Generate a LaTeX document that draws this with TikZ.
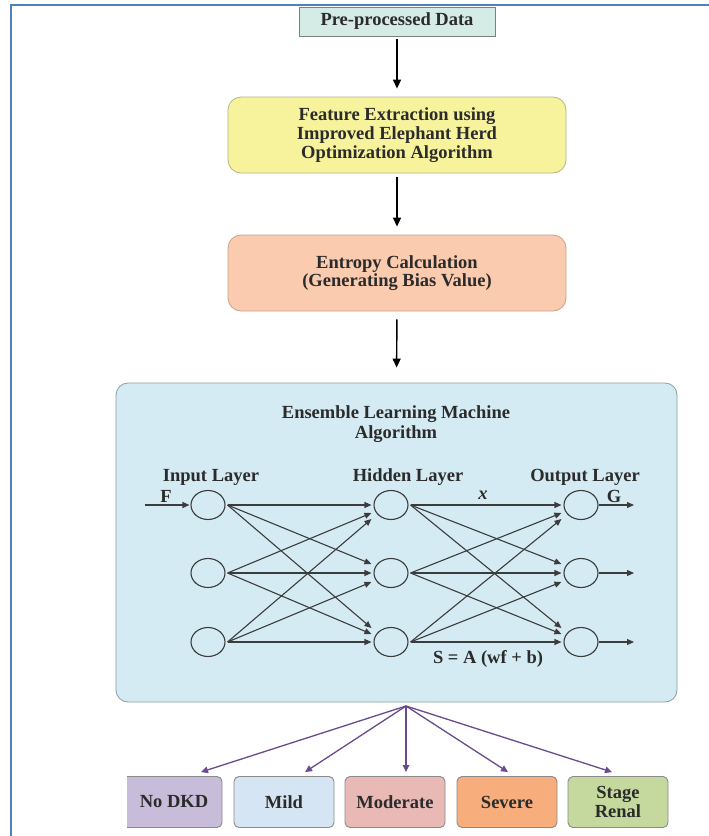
\documentclass[tikz,border=0pt]{standalone}
\usepackage{fontspec}
\setmainfont{Liberation Serif}
\usetikzlibrary{arrows.meta,shapes.geometric,calc}
\definecolor{frameC}{HTML}{4F81BD}
\definecolor{txtC}{HTML}{2B2B2B}
\definecolor{preC}{HTML}{D5EBE5}
\definecolor{featC}{HTML}{F7F39C}
\definecolor{featB}{HTML}{B5B38C}
\definecolor{entC}{HTML}{FACBAE}
\definecolor{entB}{HTML}{C6A38E}
\definecolor{elmC}{HTML}{D4EBF3}
\definecolor{elmB}{HTML}{8C9CA2}
\definecolor{netC}{HTML}{3C3C3C}
\definecolor{purpC}{HTML}{6A4A8C}
\definecolor{nodkdC}{HTML}{C8BCDB}
\definecolor{mildC}{HTML}{D6E5F4}
\definecolor{modC}{HTML}{E9B9B5}
\definecolor{sevC}{HTML}{F8AD7D}
\definecolor{stageC}{HTML}{C5D99E}
\definecolor{catB}{HTML}{8A8A8A}
\begin{document}
\begin{tikzpicture}[x=1pt,y=-1pt,
  font=\fontsize{18.5}{18.7}\selectfont\bfseries,
  every node/.style={text=txtC},
  flowbox/.style={draw, line width=0.8pt, align=center, inner sep=0pt, rounded corners=13pt},
  flow/.style={draw=black, line width=1.4pt, -{Triangle[length=9pt,width=8pt]}},
  neuron/.style={ellipse, draw=netC, line width=1.1pt, minimum width=34pt, minimum height=29pt, inner sep=0pt},
  net/.style={draw=netC, line width=1.1pt, -{Triangle[length=7pt,width=6pt]}},
  catbox/.style={draw=catB, line width=0.9pt, rounded corners=5pt, minimum width=100pt, minimum height=51pt, inner sep=0pt, align=center},
  purp/.style={draw=purpC, line width=1.3pt, -{Triangle[length=7pt,width=6.5pt]}}
]
\useasboundingbox (0,0) rectangle (709,836);
\fill[white] (0,0) rectangle (709,836);
% frame
\draw[frameC, line width=2.2pt] (11,836) -- (11,5) -- (709,5);

% flow boxes
\node[flowbox, draw=gray, fill=preC, rounded corners=0pt, minimum width=196pt, minimum height=29pt] (pre) at (397,21.5) {Pre-processed Data};
\node[flowbox, draw=featB, fill=featC, minimum width=338pt, minimum height=76pt] (feat) at (397,135) {Feature Extraction using\\Improved Elephant Herd\\Optimization Algorithm};
\node[flowbox, draw=entB, fill=entC, minimum width=338pt, minimum height=76pt] (ent) at (397,273) {Entropy Calculation\\(Generating Bias Value)};
\node[flowbox, draw=elmB, fill=elmC, rounded corners=12pt, minimum width=561pt, minimum height=319pt] (elm) at (396.5,542.5) {};

\draw[flow, shorten <=3pt, shorten >=8pt] (pre.south) -- (feat.north);
\draw[flow, shorten <=4pt, shorten >=8pt] (feat.south) -- (ent.north);
\draw[flow, shorten <=8pt, shorten >=15pt] (ent.south) -- (elm.north);

% network
\node[align=center, font=\fontsize{18.5}{20}\selectfont\bfseries] (title) at (396,424) {Ensemble Learning Machine\\Algorithm};
\node (linput) at (211,477) {Input Layer};
\node (lhidden) at (408,477) {Hidden Layer};
\node (loutput) at (585,477) {Output Layer};

\foreach \k/\y in {1/505,2/573,3/642} {
  \node[neuron] (i\k) at (208,\y) {};
  \node[neuron] (h\k) at (391,\y) {};
  \node[neuron] (o\k) at (581,\y) {};
  \coordinate (oe\k) at (634,\y);
}
\foreach \a/\b/\o in {1/1/0,1/2/-9,1/3/-14,2/1/8,2/2/0,2/3/-8,3/1/14,3/2/9,3/3/0} {
  \draw[net] ($(i\a.east)+(2,0)$) -- ($(h\b.west)+(-2,\o)$);
  \draw[net] ($(h\a.east)+(2,0)$) -- ($(o\b.west)+(-2,\o)$);
}
\foreach \k in {1,2,3} {
  \draw[net] (o\k.east) -- (oe\k);
}
\coordinate (fin) at (145,505);
\draw[net] (fin) -- ($(i1.west)+(-1,0)$);
\node (flab) at (166,496) {F};
\node (glab) at (614,496) {G};
\node[font=\fontsize{18.5}{18.7}\selectfont\bfseries\itshape] (xlab) at (483,495) {x};
\node (slab) at (488,659) {S = A (wf + b)};

% categories
\begin{scope}
  \clip (127,760) rectangle (230,836);
  \node[catbox, fill=nodkdC] (nodkd) at (172,802) {};
\end{scope}
\node (nodkdtxt) at (174,802) {No DKD};
\node[catbox, fill=mildC] (mild) at (284,802) {Mild};
\node[catbox, fill=modC] (mod) at (395,802) {Moderate};
\node[catbox, fill=sevC] (sev) at (507,802) {Severe};
\node[catbox, fill=stageC] (stage) at (618,802) {Stage\\Renal};

\coordinate (split) at (406,706);
\draw[purp] (split) -- ($(nodkd.north)+(29,-4)$);
\draw[purp] (split) -- ($(mild.north)+(21,-4)$);
\draw[purp] (split) -- ($(mod.north)+(11,-4)$);
\draw[purp] (split) -- ($(sev.north)+(1,-4)$);
\draw[purp] (split) -- ($(stage.north)+(-6,-4)$);
\end{tikzpicture}
\end{document}
